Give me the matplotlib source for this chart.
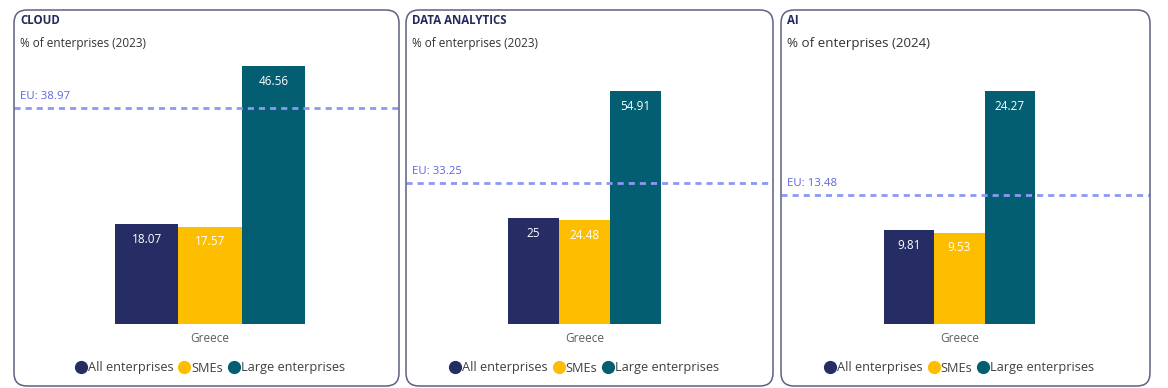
import matplotlib
matplotlib.use('Agg')
import matplotlib.pyplot as plt
from matplotlib.patches import FancyBboxPatch
from matplotlib.lines import Line2D
from matplotlib.transforms import IdentityTransform, blended_transform_factory

plt.rcParams['font.family'] = ['Open Sans', 'DejaVu Sans']

titles = ['CLOUD', 'DATA ANALYTICS', 'AI']
subtitles = ['% of enterprises (2023)', '% of enterprises (2023)', '% of enterprises (2024)']
country = 'Greece'
series = ['All enterprises', 'SMEs', 'Large enterprises']
all_ent = [18.07, 25, 9.81]
smes = [17.57, 24.48, 9.53]
large = [46.56, 54.91, 24.27]
eu_avg = [38.97, 33.25, 13.48]

colors = ['#252d64', '#fdbe00', '#035e72']
eu_color = '#8c98f2'
eu_text = '#5a67d8'
W, H = 1168, 388

fig = plt.figure(figsize=(W / 100, H / 100), dpi=100)

# panel layout in pixels: left, right, plot top, bar center, px per bar
panels = [(14, 399, 60, 210, 63.3), (406, 773, 85, 584.5, 51), (781, 1150, 85, 959.5, 50.3)]
bar_tops = [66, 91, 91]
sub_size = [8.5, 8.5, 9.6]
base = 324

def fx(px):
    return px / W

def fy(py):
    return 1 - py / H

for i, (x0, x1, top, cx, ppu) in enumerate(panels):
    # rounded border
    box = FancyBboxPatch((x0, H - 386), x1 - x0, 376,
                         boxstyle='round,pad=0,rounding_size=13',
                         transform=IdentityTransform(), fill=False,
                         edgecolor='#5d6082', linewidth=1.1)
    fig.patches.append(box)

    fig.text(fx(x0 + 6), fy(21), titles[i], fontsize=8.3, fontweight='bold',
             color='#252a5a', va='center', ha='left')
    fig.text(fx(x0 + 6), fy(44), subtitles[i], fontsize=sub_size[i],
             color='#333333', va='center', ha='left')

    ax = fig.add_axes([fx(x0), fy(base), fx(x1) - fx(x0), fy(top) - fy(base)])
    vals = [all_ent[i], smes[i], large[i]]
    ax.bar([-1, 0, 1], vals, width=1, color=colors)
    ax.set_xlim(-(cx - x0) / ppu, (x1 - cx) / ppu)
    ax.set_ylim(0, (base - top) * large[i] / (base - bar_tops[i]))
    for s in ax.spines.values():
        s.set_visible(False)
    ax.set_yticks([])
    ax.set_xticks([0])
    ax.set_xticklabels([country], fontsize=8.5, color='#605e5c')
    ax.tick_params(axis='x', length=0, pad=6)
    ax.patch.set_alpha(0)

    for xpos, v in zip([-1, 0, 1], vals):
        ax.annotate(f'{v:g}', (xpos, v), xytext=(0, -11), textcoords='offset points',
                    ha='center', va='center', color='white', fontsize=8.5)

    ax.axhline(eu_avg[i], color=eu_color, linewidth=2, linestyle=(0, (2.2, 1.8)))
    tr = blended_transform_factory(ax.transAxes, ax.transData)
    ax.annotate(f'EU: {eu_avg[i]}', (6 / (x1 - x0), eu_avg[i]), xycoords=tr,
                xytext=(0, 8), textcoords='offset points', ha='left', va='center',
                color=eu_text, fontsize=8.2)

    handles = [Line2D([], [], marker='o', linestyle='', markersize=8.5,
                      markerfacecolor=c, markeredgecolor=c) for c in colors]
    fig.legend(handles, series, loc='center', bbox_to_anchor=(fx(cx), fy(368)),
               ncol=3, frameon=False, fontsize=9.2, handletextpad=0.1,
               columnspacing=0.4, handlelength=0.9, labelcolor='#404040')

fig.savefig('out.png', dpi=100)
